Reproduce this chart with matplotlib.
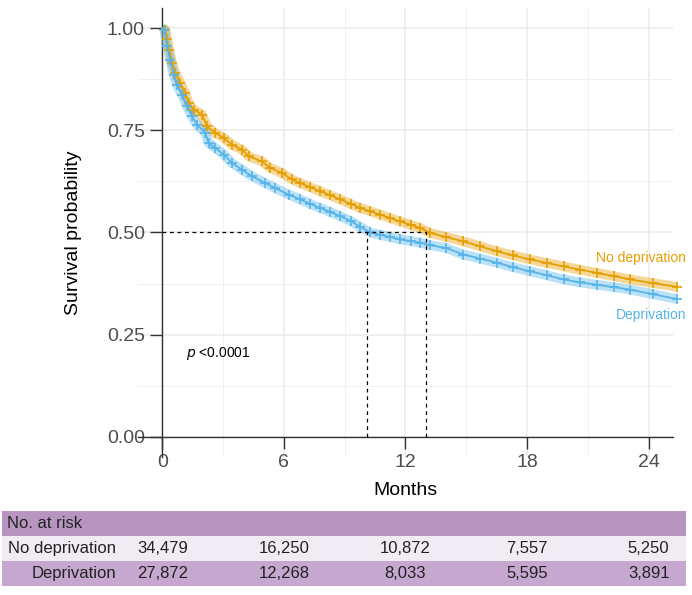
import matplotlib
matplotlib.use("Agg")
import matplotlib.pyplot as plt
from matplotlib.patches import Rectangle
from matplotlib.transforms import blended_transform_factory

plt.rcParams['font.family'] = ['Liberation Sans', 'DejaVu Sans']

# Kaplan-Meier estimates (months, survival probability)
t_nodep = [0, 0.15, 0.23, 0.35, 0.48, 0.64, 0.89, 1.13, 1.30, 1.54, 1.96, 2.2, 2.61, 3.03,
           3.44, 3.93, 4.26, 4.92, 5.33, 5.9, 6.4, 6.81, 7.3, 7.79, 8.3, 8.78, 9.3, 9.77,
           10.25, 10.75, 11.25, 11.74, 12.25, 12.73, 13.22, 14.0, 14.86, 15.7, 16.51, 17.3,
           18.15, 19.0, 19.8, 20.6, 21.44, 22.3, 23.09, 24.2, 25.39]
s_nodep = [1.0, 0.997, 0.973, 0.948, 0.915, 0.891, 0.866, 0.842, 0.817, 0.801, 0.789, 0.760,
           0.744, 0.732, 0.715, 0.703, 0.687, 0.674, 0.658, 0.646, 0.630, 0.621, 0.611, 0.601,
           0.591, 0.581, 0.570, 0.560, 0.552, 0.544, 0.535, 0.527, 0.519, 0.511, 0.499, 0.489,
           0.478, 0.466, 0.454, 0.444, 0.434, 0.425, 0.417, 0.409, 0.401, 0.393, 0.385, 0.376,
           0.367]

t_dep = [0, 0.1, 0.23, 0.39, 0.56, 0.72, 0.97, 1.22, 1.46, 1.71, 2.12, 2.28, 2.61, 3.03,
         3.44, 3.93, 4.42, 5.08, 5.57, 6.23, 6.81, 7.3, 7.79, 8.3, 8.78, 9.3, 9.77, 10.25,
         10.75, 11.25, 11.74, 12.25, 12.73, 13.22, 14.0, 14.86, 15.7, 16.51, 17.3, 18.15,
         19.0, 19.8, 20.6, 21.44, 22.3, 23.09, 24.2, 25.39]
s_dep = [1.0, 0.997, 0.956, 0.923, 0.887, 0.862, 0.838, 0.809, 0.785, 0.764, 0.744, 0.720,
         0.707, 0.691, 0.670, 0.654, 0.638, 0.621, 0.609, 0.593, 0.581, 0.570, 0.560, 0.550,
         0.540, 0.528, 0.514, 0.500, 0.494, 0.489, 0.483, 0.479, 0.475, 0.469, 0.462, 0.446,
         0.436, 0.426, 0.415, 0.405, 0.395, 0.385, 0.378, 0.372, 0.366, 0.360, 0.349, 0.337]

median_nodep = 13.0
median_dep = 10.1

risk_times = [0, 6, 12, 18, 24]
risk_nodep = ['34,479', '16,250', '10,872', '7,557', '5,250']
risk_dep = ['27,872', '12,268', '8,033', '5,595', '3,891']

c_nodep = '#E69F00'
c_dep = '#56B4E9'

fig = plt.figure(figsize=(6.92, 5.95), dpi=100)
ax = fig.add_axes([0.1994, 0.2319, 0.7731, 0.7547])

for t, s, c in [(t_nodep, s_nodep, c_nodep), (t_dep, s_dep, c_dep)]:
    ax.plot(t, s, color=c, lw=7, alpha=0.4, solid_capstyle='butt',
            clip_on=False, zorder=3)
    ax.plot(t, s, color=c, lw=1.3, clip_on=False, zorder=4)
    ax.plot(t[1:], s[1:], ls='none', marker='+', ms=7, mew=1.2, color=c,
            clip_on=False, zorder=4)

# median lines
dash = (0, (3, 3))
ax.plot([0, median_nodep], [0.5, 0.5], color='black', lw=0.9, ls=dash, zorder=5)
ax.plot([median_dep, median_dep], [0, 0.5], color='black', lw=0.9, ls=dash, zorder=5)
ax.plot([median_nodep, median_nodep], [0, 0.5], color='black', lw=0.9, ls=dash, zorder=5)

ax.text(1.18, 0.203, r'$\it{p}$ <0.0001', fontsize=10, va='center', ha='left')
ax.text(25.85, 0.4385, 'No deprivation', color=c_nodep, fontsize=10,
        ha='right', va='center', clip_on=False)
ax.text(25.85, 0.299, 'Deprivation', color=c_dep, fontsize=10,
        ha='right', va='center', clip_on=False)

ax.set_xlim(-1.2, 25.2)
ax.set_ylim(-0.05, 1.05)
ax.set_xticks(risk_times)
ax.set_xticks([3, 9, 15, 21], minor=True)
ax.set_yticks([0, 0.25, 0.5, 0.75, 1.0])
ax.set_yticklabels(['0.00', '0.25', '0.50', '0.75', '1.00'])
ax.set_yticks([0.125, 0.375, 0.625, 0.875], minor=True)
ax.grid(True, which='major', color='#EBEBEB', lw=1.1)
ax.grid(True, which='minor', color='#F0F0F0', lw=0.7)
ax.set_axisbelow(True)

for side in ['top', 'right']:
    ax.spines[side].set_visible(False)
ax.spines['left'].set_position(('data', 0))
ax.spines['bottom'].set_position(('data', 0))
for side in ['left', 'bottom']:
    ax.spines[side].set_color('#333333')
    ax.spines[side].set_linewidth(1.0)
ax.tick_params(which='major', length=8.5, width=1.0, color='#333333',
               labelsize=14, labelcolor='#4D4D4D', pad=4)
ax.tick_params(which='minor', length=0)

ax.set_xlabel('Months', fontsize=14)
ax.set_ylabel('Survival probability', fontsize=14)
ax.xaxis.set_label_coords(0.5, -0.055)
ax.yaxis.set_label_coords(-0.105, 0.5)

# number-at-risk table
W, H = 692, 595
rows = [(511, 536, '#B895C0'), (536, 561, '#F1EBF3'), (561, 586, '#C6A7CF')]
for top, bot, col in rows:
    fig.patches.append(Rectangle((2 / W, 1 - bot / H), (686 - 2) / W, (bot - top) / H,
                                 transform=fig.transFigure, facecolor=col,
                                 edgecolor='none', zorder=0))

fs = 12
fig.text(7 / W, 1 - 523.5 / H, 'No. at risk', fontsize=fs, color='#222222',
         ha='left', va='center')
fig.text(116 / W, 1 - 548.5 / H, 'No deprivation', fontsize=fs, color='#222222',
         ha='right', va='center')
fig.text(116 / W, 1 - 573.5 / H, 'Deprivation', fontsize=fs, color='#222222',
         ha='right', va='center')
tr = blended_transform_factory(ax.transData, fig.transFigure)
for x, a, b in zip(risk_times, risk_nodep, risk_dep):
    fig.text(x, 1 - 548.5 / H, a, fontsize=fs, color='#222222',
             ha='center', va='center', transform=tr)
    fig.text(x, 1 - 573.5 / H, b, fontsize=fs, color='#222222',
             ha='center', va='center', transform=tr)

fig.savefig('out.png', dpi=100)
